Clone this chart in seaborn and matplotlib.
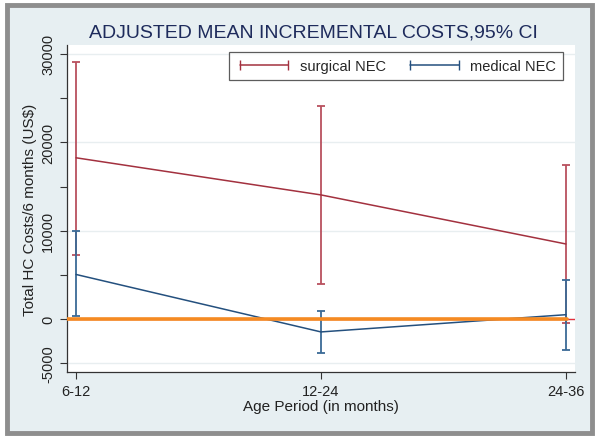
import numpy as np
import pandas as pd
import matplotlib
matplotlib.use("Agg")
import matplotlib.pyplot as plt
import seaborn as sns
from matplotlib.lines import Line2D
from matplotlib.patches import Rectangle

# data
periods = ["6-12", "12-24", "24-36"]
surg_mean = [18250, 14050, 8500]
surg_lo = [7250, 3950, -450]
surg_hi = [29100, 24150, 17450]
med_mean = [5050, -1450, 500]
med_lo = [300, -3800, -3450]
med_hi = [9950, 900, 4400]

surg_col = "#A3313F"
surg_err = "#B9505E"
med_col = "#24507E"
med_err = "#3A6A96"

df = pd.DataFrame({
    "period": list(range(3)) * 2,
    "cost": surg_mean + med_mean,
    "group": ["surgical NEC"] * 3 + ["medical NEC"] * 3,
})

sns.set_style("white")
plt.rcParams["font.family"] = ["Liberation Sans", "DejaVu Sans"]

fig = plt.figure(figsize=(6, 4.39), dpi=100, facecolor="white")
# light panel with grey frame
fig.patches.append(Rectangle((0.012, 0.012), 0.975, 0.974, transform=fig.transFigure,
                             facecolor="#E7EFF2", edgecolor="#8E8E8E", linewidth=3.5, zorder=-1))
ax = fig.add_axes([0.1117, 0.150, 0.8466, 0.745])
ax.set_facecolor("white")

# CIs
x = np.arange(3)
ax.errorbar(x, surg_mean, yerr=[np.subtract(surg_mean, surg_lo), np.subtract(surg_hi, surg_mean)],
            fmt="none", ecolor=surg_err, elinewidth=1.3, capsize=3, capthick=1.3, zorder=3)
ax.errorbar(x, med_mean, yerr=[np.subtract(med_mean, med_lo), np.subtract(med_hi, med_mean)],
            fmt="none", ecolor=med_err, elinewidth=1.3, capsize=3, capthick=1.3, zorder=3)

sns.lineplot(data=df, x="period", y="cost", hue="group",
             palette={"surgical NEC": surg_col, "medical NEC": med_col},
             linewidth=1.1, legend=False, ax=ax, zorder=4)

# reference line at zero
ax.axhline(0, color="#E2323F", linewidth=1.0, zorder=5)
ax.axhline(0, xmin=0, xmax=0.985, color="#F58A22", linewidth=2.6, zorder=6)

ax.set_xlim(-0.037, 2.037)
ax.set_ylim(-6000, 31000)
ax.set_xticks(x)
ax.set_xticklabels(periods, fontsize=10.5)
ax.set_yticks([-5000, 0, 10000, 20000, 30000])
ax.set_yticks([5000, 15000, 25000], minor=True)
ax.set_yticklabels(["-5000", "0", "10000", "20000", "30000"], rotation=90, va="center", fontsize=10.5)
ax.tick_params(axis="both", which="both", direction="out", length=5, width=0.8, color="#333333",
               left=True, bottom=True, labelcolor="#222222")
ax.tick_params(axis="y", which="minor", length=5)
ax.grid(axis="y", which="major", color="#E8EEF0", linewidth=1.0)
ax.set_axisbelow(True)
for s in ["top", "right"]:
    ax.spines[s].set_visible(False)
for s in ["left", "bottom"]:
    ax.spines[s].set_color("#333333")
    ax.spines[s].set_linewidth(0.9)

ax.set_xlabel("Age Period (in months)", fontsize=11, color="#222222", labelpad=1)
ax.set_ylabel("Total HC Costs/6 months (US$)", fontsize=11, color="#222222", labelpad=3)

fig.text(0.522, 0.925, "ADJUSTED MEAN INCREMENTAL COSTS,95% CI", ha="center", va="center",
         fontsize=14, color="#1E2B5C")

handles = [
    Line2D([], [], color=surg_col, marker="|", markersize=7, linewidth=1.1),
    Line2D([], [], color=med_col, marker="|", markersize=7, linewidth=1.1),
]
leg = ax.legend(handles, ["surgical NEC", "medical NEC"], ncol=2, numpoints=2, loc="upper right",
                bbox_to_anchor=(0.99, 1.0), frameon=True, fancybox=False, fontsize=10.5,
                handlelength=3.9, handletextpad=0.5, columnspacing=1.4, borderpad=0.45,
                edgecolor="#333333")
leg.get_frame().set_linewidth(0.9)

fig.savefig("out.png", dpi=100, facecolor=fig.get_facecolor())
